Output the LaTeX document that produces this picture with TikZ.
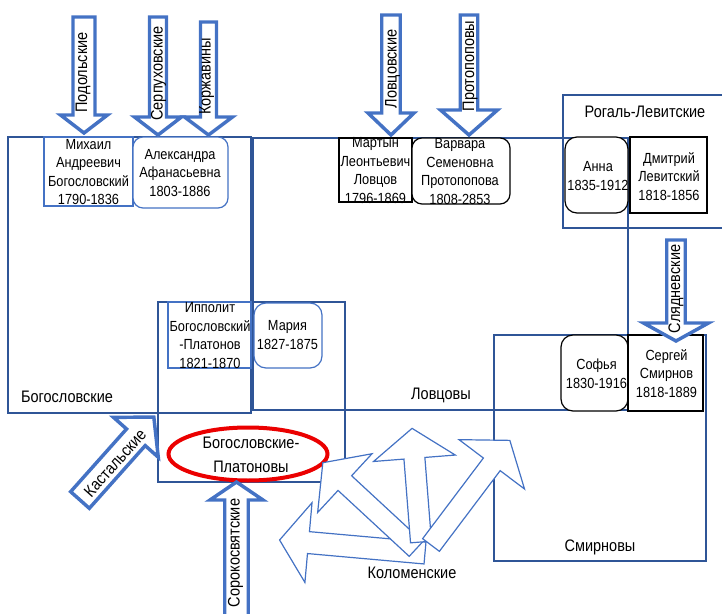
\documentclass[tikz,border=0pt]{standalone}
\usepackage{fontspec}
\setmainfont{Liberation Sans}[FakeStretch=0.87]
\usepackage{tikz}

\definecolor{famblue}{RGB}{47,85,151}
\definecolor{arrblue}{RGB}{68,114,196}
\definecolor{ovalred}{RGB}{235,0,0}

% block arrow: style, base x, base y, angle, length, shaft width, head width, head length
\newcommand{\blockarrow}[8]{%
  \begin{scope}[shift={(#2,#3)},rotate=#4]
    \draw [#1] (0,-#6/2) -- (#5-#8,-#6/2) -- (#5-#8,-#7/2) -- (#5,0) -- (#5-#8,#7/2) -- (#5-#8,#6/2) -- (0,#6/2) -- cycle;
  \end{scope}}

\begin{document}
\begin{tikzpicture}[x=0.75pt,y=0.75pt,yscale=-1,xscale=1,
  famframe/.style={draw=famblue, line width=0.9pt},
  personblue/.style={draw=arrblue, line width=0.9pt, fill=white},
  personblack/.style={draw=black, line width=0.9pt, fill=white},
  persontext/.style={inner sep=0pt, align=center, font=\fontsize{11}{13.9}\selectfont},
  famlabel/.style={inner sep=0pt, align=center, font=\fontsize{12.5}{15}\selectfont},
  fatarrow/.style={draw=arrblue, line width=2.6pt, fill=white, line join=miter},
  thinarrow/.style={draw=arrblue, line width=0.9pt, fill=white},
  arrowtext/.style={inner sep=0pt, font=\fontsize{12.5}{15}\selectfont}]
\useasboundingbox (0,0) rectangle (722,614);

% Shape: Family frames
\draw [famframe] (8,137) rectangle (251,413);
\draw [famframe] (253,138) rectangle (628,410);
\draw [famframe] (563,95) rectangle (724,228);
\draw [famframe] (494,335) rectangle (706,561);
\draw [famframe] (158,302) rectangle (345,482);

% Shape: Person boxes
\draw [personblue] (44,137) rectangle (133,206);
\draw [personblue, rounded corners=7.5pt] (133,137) rectangle (228,208);
\draw [personblue] (168,302) rectangle (251,368);
\draw [personblue, rounded corners=9pt] (254,303) rectangle (322,368);
\draw [personblack] (339,138) rectangle (412,202);
\draw [personblack, rounded corners=7.5pt] (412,138) rectangle (510,204);
\draw [personblack, rounded corners=9pt] (565,137) rectangle (628,213);
\draw [personblack] (630,137) rectangle (707,213);
\draw [personblack, rounded corners=9pt] (561,335) rectangle (628,411);
\draw [personblack] (628,335) rectangle (703,411);

% Shape: Ellipse
\draw [draw=ovalred, line width=3pt, fill=white] (248,454) ellipse (79.5 and 26.5);

% Shape: Fat arrows
\blockarrow{fatarrow}{84}{17}{90}{116}{22}{47}{18}
\blockarrow{fatarrow}{158}{17}{90}{118}{17}{47}{18}
\blockarrow{fatarrow}{208.5}{22}{90}{113}{16}{48}{18}
\blockarrow{fatarrow}{391}{15}{90}{120}{18.5}{46}{22}
\blockarrow{fatarrow}{469}{15}{90}{120}{17.5}{57}{25}
\blockarrow{fatarrow}{676}{240}{90}{101}{18.5}{65}{18}
\blockarrow{fatarrow}{236.5}{620}{-90}{138}{23.5}{53}{18}
\blockarrow{fatarrow}{80}{500}{-48.3}{111}{25}{60}{27}

% Shape: Kolomenskie arrows
\blockarrow{thinarrow}{425}{553}{185.1}{146}{22}{80}{29}
\blockarrow{thinarrow}{416}{549}{-137.2}{127}{20}{80}{30}
\blockarrow{thinarrow}{421}{542}{-94.5}{114}{21}{82}{30}
\blockarrow{thinarrow}{431}{545}{-53}{131}{21}{82}{30}

% Text Node: persons
\node [persontext] (mikhail) at (88.5,172) {Михаил\\Андреевич\\Богословский\\1790-1836};
\node [persontext] (alexandra) at (180,173) {Александра\\Афанасьевна\\1803-1886};
\node [persontext] (martyn) at (375.5,170.5) {Мартын\\Леонтьевич\\Ловцов\\1796-1869};
\node [persontext] (varvara) at (460,171.5) {Варвара\\Семеновна\\Протопопова\\1808-2853};
\node [persontext] (anna) at (598,176) {Анна\\1835-1912};
\node [persontext] (dmitry) at (669,176.5) {Дмитрий\\Левитский\\1818-1856};
\node [persontext] (ippolit) at (210,335.5) {Ипполит\\Богословский\\-Платонов\\1821-1870};
\node [persontext] (maria) at (287.5,335) {Мария\\1827-1875};
\node [persontext] (sofia) at (596.5,374) {Софья\\1830-1916};
\node [persontext] (sergey) at (666.5,373.5) {Сергей\\Смирнов\\1818-1889};

% Text Node: families
\node [famlabel] (bogoslovskie) at (67,397) {Богословские};
\node [famlabel] (lovtsovy) at (441,395) {Ловцовы};
\node [famlabel] (rogal) at (645,112) {Рогаль-Левитские};
\node [famlabel] (smirnovy) at (600,547) {Смирновы};
\node [famlabel] (kolomenskie) at (412,573) {Коломенские};
\node [famlabel, font=\fontsize{12.5}{18}\selectfont] (platonovy) at (251,455) {Богословские-\\Платоновы};

% Text Node: arrows
\node [arrowtext, rotate=90] (podolskie) at (83,72.5) {Подольские};
\node [arrowtext, rotate=90] (serpukhovskie) at (158.5,73.5) {Серпуховские};
\node [arrowtext, rotate=90] (korzhaviny) at (206.5,76.5) {Коржавины};
\node [arrowtext, rotate=90] (lovtsovskie) at (392.5,69) {Ловцовские};
\node [arrowtext, rotate=90] (protopopovy) at (470,66) {Протопоповы};
\node [arrowtext, rotate=90] (slyadnevskie) at (676,289) {Слядневские};
\node [arrowtext, rotate=90] (sorokosvyatskie) at (235.5,553) {Сорокосвятские};
\node [arrowtext, rotate=48.3] (kastalskie) at (115,463) {Кастальские};

\end{tikzpicture}
\end{document}
